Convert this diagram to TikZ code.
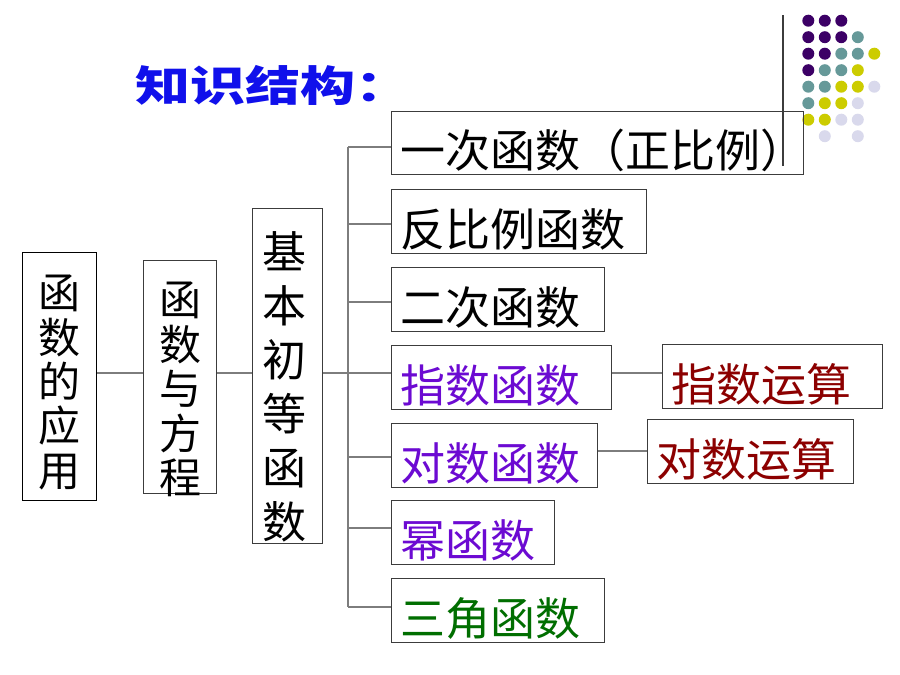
\documentclass[tikz,border=0pt]{standalone}
\usepackage{fontspec}
\usepackage{graphicx}
\newfontfamily\cjk{Noto Sans CJK SC}
\definecolor{titleblue}{RGB}{16,16,235}
\definecolor{purp}{RGB}{108,10,210}
\definecolor{dred}{RGB}{140,0,0}
\definecolor{dgreen}{RGB}{0,110,0}
\definecolor{boxgray}{RGB}{60,60,60}
\definecolor{linegray}{RGB}{125,125,125}
\definecolor{dP}{RGB}{60,0,102}
\definecolor{dT}{RGB}{102,153,153}
\definecolor{dY}{RGB}{204,204,0}
\definecolor{dL}{RGB}{217,217,236}
\tikzset{
  box/.style={draw=boxgray, line width=1.2pt, inner sep=0pt, anchor=north west},
  lbl/.style={inner sep=0pt, anchor=base west, font=\cjk\fontsize{45}{45}\selectfont},
  vlbl/.style={inner sep=0pt, anchor=north, align=center},
  link/.style={draw=linegray, line width=1.8pt}
}
\begin{document}
\begin{tikzpicture}[x=1pt,y=-1pt]
\fill[white] (0,0) rectangle (900,675);
\useasboundingbox (0,0) rectangle (900,675);

% decorative dots
\foreach \c/\k in {0/dP,1/dP,2/dP} \fill[\k] (808.3+16.5*\c,20.7) circle[radius=6pt];
\foreach \c/\k in {0/dP,1/dP,2/dP,3/dT} \fill[\k] (808.3+16.5*\c,37.2) circle[radius=6pt];
\foreach \c/\k in {0/dP,1/dP,2/dT,3/dT,4/dY} \fill[\k] (808.3+16.5*\c,53.7) circle[radius=6pt];
\foreach \c/\k in {0/dP,1/dT,2/dT,3/dY} \fill[\k] (808.3+16.5*\c,70.2) circle[radius=6pt];
\foreach \c/\k in {0/dT,1/dT,2/dY,3/dY,4/dL} \fill[\k] (808.3+16.5*\c,86.7) circle[radius=6pt];
\foreach \c/\k in {0/dT,1/dY,2/dY,3/dL} \fill[\k] (808.3+16.5*\c,103.2) circle[radius=6pt];
\foreach \c/\k in {0/dY,1/dY,2/dL,3/dL} \fill[\k] (808.3+16.5*\c,119.7) circle[radius=6pt];
\foreach \c/\k in {1/dL,3/dL} \fill[\k] (808.3+16.5*\c,136.2) circle[radius=6pt];

% title
\node[anchor=base west, inner sep=0pt, text=titleblue] (title) at (135,101)
  {\scalebox{1.31}[1]{\cjk\bfseries\fontsize{42}{42}\selectfont 知识结构：}};

% left boxes
\node[box, draw=black, minimum width=74pt, minimum height=248pt] (A) at (22,252) {};
\node[box, minimum width=73pt, minimum height=233pt] (B) at (143,260) {};
\node[box, minimum width=70pt, minimum height=335pt] (C) at (252,208) {};
\node[vlbl, font=\cjk\fontsize{42}{44.3}\selectfont] (At) at (59,275) {函\\数\\的\\应\\用};
\node[vlbl, font=\cjk\fontsize{42}{44.5}\selectfont] (Bt) at (180,282) {函\\数\\与\\方\\程};
\node[vlbl, font=\cjk\fontsize{44}{54}\selectfont] (Ct) at (284,231) {基\\本\\初\\等\\函\\数};

% right boxes
\node[box, minimum width=412pt, minimum height=63pt] (f1) at (391,111) {};
\node[box, minimum width=255pt, minimum height=64pt] (f2) at (391,189) {};
\node[box, minimum width=213pt, minimum height=64pt] (f3) at (391,267) {};
\node[box, minimum width=220pt, minimum height=64pt] (f4) at (391,345) {};
\node[box, minimum width=206pt, minimum height=64pt] (f5) at (391,423) {};
\node[box, minimum width=163pt, minimum height=64pt] (f6) at (391,500) {};
\node[box, minimum width=213pt, minimum height=64pt] (f7) at (391,578) {};
\node[box, minimum width=220pt, minimum height=64pt] (r4) at (662,344) {};
\node[box, minimum width=206pt, minimum height=64pt] (r5) at (647,419) {};

\node[lbl] (f1t) at (400,167) {一次函数（正比例）};
\node[lbl] (f2t) at (400,246) {反比例函数};
\node[lbl] (f3t) at (400,324) {二次函数};
\node[lbl, text=purp] (f4t) at (400,402) {指数函数};
\node[lbl, text=purp] (f5t) at (400,480) {对数函数};
\node[lbl, text=purp] (f6t) at (400,557) {幂函数};
\node[lbl, text=dgreen] (f7t) at (400,635) {三角函数};
\node[lbl, text=dred] (r4t) at (671,401) {指数运算};
\node[lbl, text=dred] (r5t) at (656,476) {对数运算};

% connectors
\coordinate (m) at (0,373);
\coordinate (b1) at (348,147);
\coordinate (b2) at (348,224);
\coordinate (b3) at (348,302);
\coordinate (b5) at (348,457);
\coordinate (b6) at (348,528);
\coordinate (b7) at (348,607);
\coordinate (s5) at (0,451);
\draw[link] (A.east |- m) -- (B.west |- m);
\draw[link] (B.east |- m) -- (C.west |- m);
\draw[link] (C.east |- m) -- (f4.west |- m);
\draw[link] (b1) -- (b7);
\draw[link] (b1) -- (f1.west |- b1);
\draw[link] (b2) -- (f2.west |- b2);
\draw[link] (b3) -- (f3.west |- b3);
\draw[link] (b5) -- (f5.west |- b5);
\draw[link] (b6) -- (f6.west |- b6);
\draw[link] (b7) -- (f7.west |- b7);
\draw[link] (f4.east |- m) -- (r4.west |- m);
\draw[link] (f5.east |- s5) -- (r5.west |- s5);

% top-right rule
\coordinate (v1) at (783,15);
\coordinate (v2) at (783,166);
\draw[boxgray, line width=1.1pt] (v1) -- (v2);
\end{tikzpicture}
\end{document}
